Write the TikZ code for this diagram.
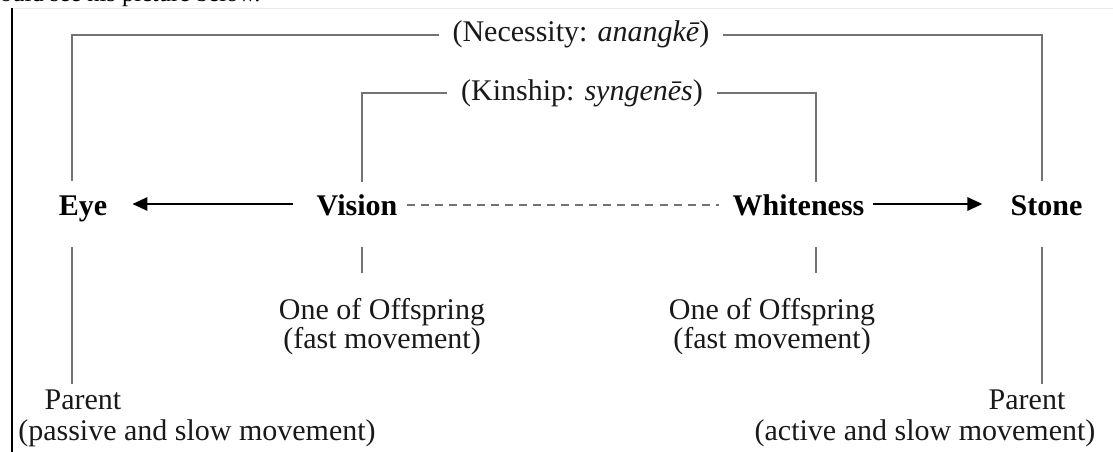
\documentclass[tikz,border=0pt]{standalone}
\usepackage{fontspec}
\setmainfont{Liberation Serif}
\usetikzlibrary{arrows.meta}
\begin{document}
\begin{tikzpicture}[x=1pt,y=-1pt,
  txt/.style={inner sep=0pt,anchor=base,font=\fontsize{30}{30}\selectfont,text=black!90},
  lbl/.style={inner sep=0pt,anchor=base,font=\fontsize{30}{30}\selectfont\bfseries,text=black},
  bracket/.style={draw=black!55,line width=1.8pt},
  arr/.style={draw=black,line width=2.8pt,-{Triangle[length=15pt,width=13pt]}},
  dline/.style={draw=black!55,line width=1.4pt,dash pattern=on 8pt off 6pt}]
\useasboundingbox (0,0) rectangle (1113,452);
\fill[white] (0,0) rectangle (1113,452);
% page fragment
\begin{scope}
\clip (0,0) rectangle (1113,452);
\node[inner sep=0pt,anchor=base west,font=\fontsize{24.5}{24.5}\selectfont] (frag) at (0,2) {ould see his picture below.};
\end{scope}
\draw[black!8,line width=1pt] (14,9) -- (1113,9);
\coordinate (ruletop) at (12,8);
\coordinate (rulebot) at (12,452);
\draw[black,line width=1.5pt] (ruletop) -- (rulebot);
% main labels
\node[lbl] (eye) at (83,215) {Eye};
\node[lbl] (vision) at (357,215) {Vision};
\node[lbl] (white) at (798.5,215) {Whiteness};
\node[lbl] (stone) at (1046.5,215) {Stone};
% bracket labels
\node[txt,inner xsep=13pt] (nec) at (581,42) {(Necessity: \textit{anangkē})};
\node[txt,inner xsep=14pt] (kin) at (582,100) {(Kinship: \textit{syngenēs})};
% coordinates for line ends
\coordinate (eyeup) at (72,181);
\coordinate (eyedn) at (72,247);
\coordinate (eyebot) at (72,384);
\coordinate (visup) at (362,182);
\coordinate (visdn) at (362,247);
\coordinate (visbot) at (362,273);
\coordinate (whup) at (816,182);
\coordinate (whdn) at (816,247);
\coordinate (whbot) at (816,273);
\coordinate (stup) at (1042,181);
\coordinate (stdn) at (1042,247);
\coordinate (stbot) at (1042,384);
% brackets
\draw[bracket] (nec.west) -| (eyeup);
\draw[bracket] (nec.east) -| (stup);
\draw[bracket] (kin.west) -| (visup);
\draw[bracket] (kin.east) -| (whup);
% lower ticks
\draw[bracket] (eyedn) -- (eyebot);
\draw[bracket] (visdn) -- (visbot);
\draw[bracket] (whdn) -- (whbot);
\draw[bracket] (stdn) -- (stbot);
% arrows
\draw[arr] ([xshift=-24pt,yshift=11pt]vision.base west) -- ([xshift=25pt,yshift=11pt]eye.base east);
\draw[arr] ([xshift=8pt,yshift=11pt]white.base east) -- ([xshift=-28pt,yshift=11pt]stone.base west);
\draw[dline] ([xshift=10pt,yshift=10pt]vision.base east) -- ([xshift=-13pt,yshift=10pt]white.base west);
% bottom texts
\node[txt,align=center] (offL) at (382,348) {One of Offspring\\[-1pt](fast movement)};
\node[txt,align=center] (offR) at (772,348) {One of Offspring\\[-1pt](fast movement)};
\node[txt] (parL) at (83,409) {Parent};
\node[txt] (passive) at (197,440) {(passive and slow movement)};
\node[txt] (parR) at (1027,409) {Parent};
\node[txt] (active) at (925,440) {(active and slow movement)};
\end{tikzpicture}
\end{document}
